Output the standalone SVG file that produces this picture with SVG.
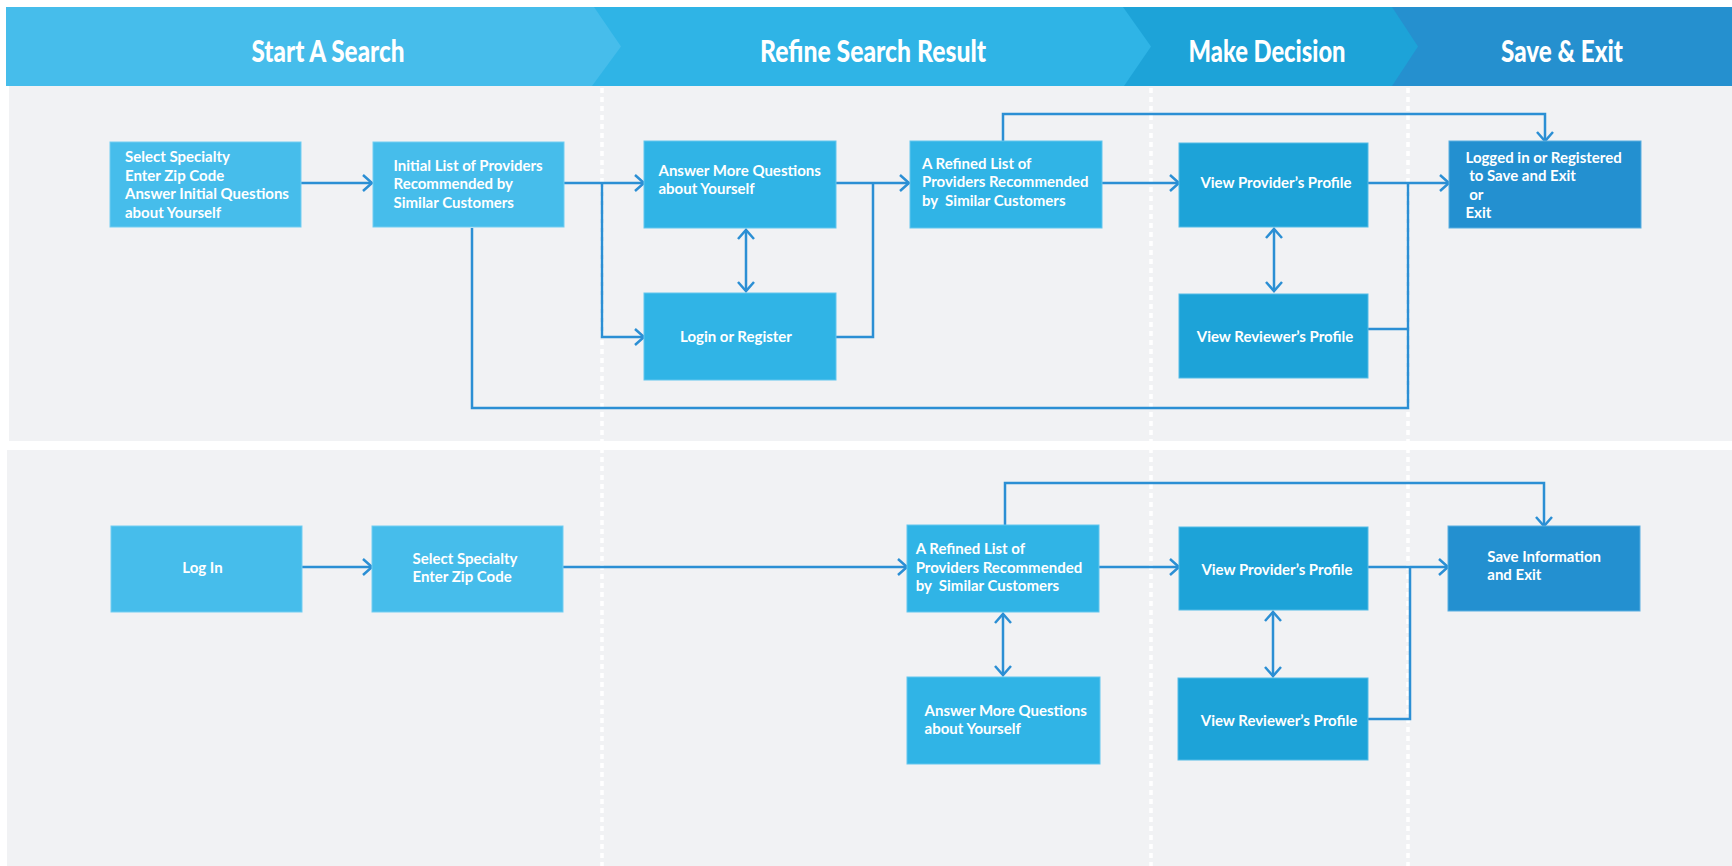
<svg xmlns="http://www.w3.org/2000/svg" width="1732" height="866" viewBox="0 0 1732 866">
<defs>
<style>
.hd{font-family:Lato,"Liberation Sans",sans-serif;font-weight:900;font-size:30px;fill:#fff;text-anchor:middle}
.t{font-family:Lato,"Liberation Sans",sans-serif;font-weight:700;font-size:15px;fill:#fff;white-space:pre}
.c{text-anchor:middle}
.b1{fill:#46BDEB;stroke:#72CDF1;stroke-width:1}
.b2{fill:#30B4E6;stroke:#62C6EE;stroke-width:1}
.b3{fill:#1DA3D8;stroke:#55BBE6;stroke-width:1}
.b4{fill:#2390D0;stroke:#5AAEE0;stroke-width:1}
.ln{fill:none;stroke:#2B8FD4;stroke-width:2.5;stroke-linejoin:miter}
.ar{marker-end:url(#ah)}
.dd{marker-start:url(#ah);marker-end:url(#ah)}
.dot{stroke:#fff;stroke-width:3.5;stroke-dasharray:5 4}
</style>
<marker id="ah" markerUnits="userSpaceOnUse" markerWidth="24" markerHeight="24" refX="11" refY="12" orient="auto-start-reverse" overflow="visible">
<path d="M2,4 L11,12 L2,20" fill="none" stroke="#2B8FD4" stroke-width="2.5"/>
</marker>
</defs>
<rect width="1732" height="866" fill="#fff"/>
<g id="panels">
<rect x="9" y="86" width="1723" height="355" fill="#F1F2F4"/>
<rect x="7" y="450" width="1725" height="416" fill="#F1F2F4"/>
</g>
<g id="header">
<rect x="1380" y="7" width="352" height="79" fill="#2590CF"/>
<polygon points="1100,7 1392,7 1418,46.5 1392,86 1100,86" fill="#1DA3D8"/>
<polygon points="590,7 1123,7 1151,46.5 1124,86 590,86" fill="#2FB4E6"/>
<polygon points="6,7 594,7 621,46.5 592,86 6,86" fill="#46BDEB"/>
<text class="hd" x="328" y="62" textLength="153" lengthAdjust="spacingAndGlyphs">Start A Search</text>
<text class="hd" x="873" y="62" textLength="226" lengthAdjust="spacingAndGlyphs">Refine Search Result</text>
<text class="hd" x="1267" y="62" textLength="157" lengthAdjust="spacingAndGlyphs">Make Decision</text>
<text class="hd" x="1562" y="62" textLength="122" lengthAdjust="spacingAndGlyphs">Save &amp; Exit</text>
</g>
<g id="dividers">
<line class="dot" x1="602" y1="88" x2="602" y2="866"/>
<line class="dot" x1="1151" y1="88" x2="1151" y2="866"/>
<line class="dot" x1="1408" y1="88" x2="1408" y2="866"/>
</g>
<g id="connectors">
<path class="ln ar" d="M301,183 L372,183"/>
<path class="ln ar" d="M564,183 L644,183"/>
<path class="ln ar" d="M602,183 L602,337 L644,337"/>
<path class="ln dd" d="M746,230 L746,291"/>
<path class="ln" d="M836,337 L873,337 L873,183"/>
<path class="ln ar" d="M836,183 L909,183"/>
<path class="ln ar" d="M1003,141 L1003,114 L1545,114 L1545,141"/>
<path class="ln ar" d="M1102,183 L1179,183"/>
<path class="ln ar" d="M1368,183 L1449,183"/>
<path class="ln dd" d="M1274,229 L1274,291"/>
<path class="ln" d="M1368,329 L1408,329"/>
<path class="ln" d="M472,228 L472,408 L1408,408 L1408,183"/>
<path class="ln ar" d="M302,567 L372,567"/>
<path class="ln ar" d="M563,567 L907,567"/>
<path class="ln ar" d="M1099,567 L1179,567"/>
<path class="ln ar" d="M1368,567 L1448,567"/>
<path class="ln ar" d="M1005,526 L1005,483 L1544,483 L1544,526"/>
<path class="ln dd" d="M1003,614 L1003,675"/>
<path class="ln dd" d="M1273,612 L1273,676"/>
<path class="ln" d="M1368,719 L1410,719 L1410,567"/>
</g>
<g id="n1"><rect class="b1" x="110" y="142" width="191" height="85"/>
<text class="t" x="125" y="162">Select Specialty</text><text class="t" x="125" y="180.5">Enter Zip Code</text><text class="t" x="125" y="199">Answer Initial Questions</text><text class="t" x="125" y="217.5">about Yourself</text></g>
<g id="n2"><rect class="b1" x="373" y="142" width="191" height="85"/>
<text class="t" x="393.5" y="170.5">Initial List of Providers</text><text class="t" x="393.5" y="189">Recommended by</text><text class="t" x="393.5" y="207.5">Similar Customers</text></g>
<g id="n3"><rect class="b2" x="644" y="141" width="192" height="87"/>
<text class="t" x="658.5" y="175.5">Answer More Questions</text><text class="t" x="658.5" y="194">about Yourself</text></g>
<g id="n4"><rect class="b2" x="910" y="141" width="192" height="87"/>
<text class="t" x="922" y="168.5">A Refined List of</text><text class="t" x="922" y="187">Providers Recommended</text><text class="t" x="922" y="205.5">by  Similar Customers</text></g>
<g id="n5"><rect class="b3" x="1179" y="143" width="189" height="84"/>
<text class="t c" x="1276" y="187.5">View Provider’s Profile</text></g>
<g id="n6"><rect class="b4" x="1449" y="141" width="192" height="87"/>
<text class="t" x="1465.5" y="162.5">Logged in or Registered</text><text class="t" x="1465.5" y="181"> to Save and Exit</text><text class="t" x="1465.5" y="199.5"> or</text><text class="t" x="1465.5" y="218">Exit</text></g>
<g id="n7"><rect class="b2" x="644" y="293" width="192" height="87"/>
<text class="t c" x="736" y="342">Login or Register</text></g>
<g id="n8"><rect class="b3" x="1179" y="294" width="189" height="84"/>
<text class="t c" x="1275" y="342">View Reviewer’s Profile</text></g>
<g id="m1"><rect class="b1" x="111" y="526" width="191" height="86"/>
<text class="t c" x="202.5" y="572.5">Log In</text></g>
<g id="m2"><rect class="b1" x="372" y="526" width="191" height="86"/>
<text class="t" x="412.5" y="563.5">Select Specialty</text><text class="t" x="412.5" y="582">Enter Zip Code</text></g>
<g id="m3"><rect class="b2" x="907" y="525" width="192" height="87"/>
<text class="t" x="915.7" y="554">A Refined List of</text><text class="t" x="915.7" y="572.5">Providers Recommended</text><text class="t" x="915.7" y="591">by  Similar Customers</text></g>
<g id="m4"><rect class="b3" x="1179" y="527" width="189" height="83"/>
<text class="t c" x="1277" y="574.5">View Provider’s Profile</text></g>
<g id="m5"><rect class="b4" x="1448" y="526" width="192" height="85"/>
<text class="t" x="1487.3" y="561.7">Save Information</text><text class="t" x="1487.3" y="580.2">and Exit</text></g>
<g id="m6"><rect class="b3" x="1178" y="678" width="190" height="82"/>
<text class="t c" x="1279" y="726">View Reviewer’s Profile</text></g>
<g id="m7"><rect class="b2" x="907" y="677" width="193" height="87"/>
<text class="t" x="924.6" y="715.7">Answer More Questions</text><text class="t" x="924.6" y="734.2">about Yourself</text></g>
</svg>
